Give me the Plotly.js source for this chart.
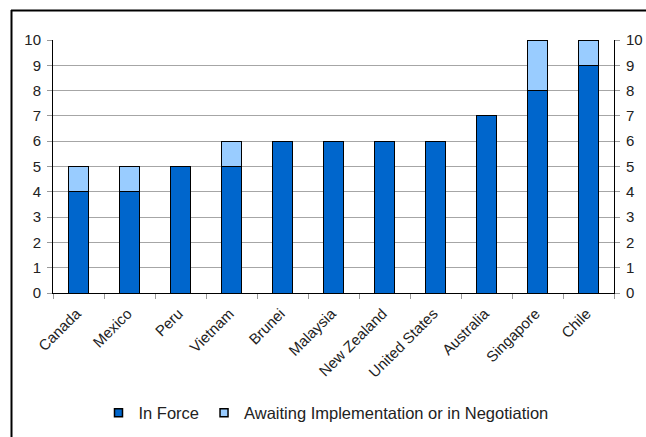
<!DOCTYPE html>
<html>
<head>
<meta charset="utf-8">
<script src="https://cdn.plot.ly/plotly-3.0.1.min.js"></script>
<style>
html,body{margin:0;padding:0;background:#fff;}
#chart{width:646px;height:437px;}
</style>
</head>
<body>
<div id="chart"></div>
<script>
const categories = ["Canada","Mexico","Peru","Vietnam","Brunei","Malaysia","New Zealand","United States","Australia","Singapore","Chile"];
const inForce = [4,4,5,5,6,6,6,6,7,8,9];
const awaiting = [1,1,0,1,0,0,0,0,0,2,1];
const seriesNames = ["In Force","Awaiting Implementation or in Negotiation"];
const seriesColors = ["#0066CC","#99CCFF"];
const yTicks = [0,1,2,3,4,5,6,7,8,9,10];

const W = 646, H = 437;
const mL = 53, mR = 32, mT = 40, mB = 144;
const pw = W - mL - mR, ph = H - mT - mB;
const px = v => (v - mL) / pw;
const py = v => (H - mB - v) / ph;

const font = {family: "Liberation Sans, Arial, sans-serif", size: 15, color: "#222"};
const legendFont = {family: "Liberation Sans, Arial, sans-serif", size: 16.5, color: "#222"};

const traces = [
  {type: "bar", name: seriesNames[0], x: categories, y: inForce, showlegend: false,
   marker: {color: seriesColors[0], line: {color: "#000", width: 1}}, hoverinfo: "skip"},
  {type: "bar", name: seriesNames[1], x: categories, y: awaiting, showlegend: false,
   marker: {color: seriesColors[1], line: {color: "#000", width: 1}}, hoverinfo: "skip"},
  {type: "scatter", mode: "markers", name: seriesNames[0], x: [categories[0]], y: [null],
   marker: {symbol: "square", size: 8, color: seriesColors[0], line: {color: "#000", width: 1.5}}, hoverinfo: "skip"},
  {type: "scatter", mode: "markers", name: seriesNames[1], x: [categories[0]], y: [null],
   marker: {symbol: "square", size: 8, color: seriesColors[1], line: {color: "#000", width: 1.5}}, hoverinfo: "skip"},
  {type: "scatter", mode: "markers", x: [categories[0]], y: [null], yaxis: "y2",
   showlegend: false, hoverinfo: "skip"}
];

const yaxisCommon = {
  range: [0, 10], tickvals: yTicks, ticktext: yTicks.map(String),
  showline: true, linecolor: "#000", linewidth: 1,
  ticks: "outside", ticklen: 5, tickcolor: "#999", tickwidth: 1,
  tickfont: font, ticklabelstandoff: 3, zeroline: false, fixedrange: true
};

const layout = {
  width: W, height: H,
  margin: {l: mL, r: mR, t: mT, b: mB, pad: 0, autoexpand: false},
  paper_bgcolor: "#fff", plot_bgcolor: "#fff",
  barmode: "stack", bargap: 0.59,
  font: font,
  showlegend: true,
  legend: {orientation: "h", x: px(326), xanchor: "center", y: py(413), yanchor: "middle",
           font: legendFont, itemwidth: 30, traceorder: "normal", tracegroupgap: 0},
  xaxis: {
    type: "category", range: [-0.5, categories.length - 0.5], autorange: false,
    tickangle: -45, tickfont: font, ticklabelstandoff: 5, ticklabelshift: -2,
    showline: true, linecolor: "#000", linewidth: 1,
    ticks: "outside", tickson: "boundaries", ticklen: 5, tickcolor: "#999",
    showgrid: false, fixedrange: true
  },
  yaxis: Object.assign({}, yaxisCommon, {showgrid: true, gridcolor: "#a6a6a6", gridwidth: 1}),
  yaxis2: Object.assign({}, yaxisCommon, {overlaying: "y", side: "right", showgrid: false}),
  shapes: [
    {type: "line", xref: "paper", yref: "paper", x0: px(11), x1: px(660), y0: py(10.5), y1: py(10.5),
     line: {color: "#000", width: 2}},
    {type: "line", xref: "paper", yref: "paper", x0: px(11.5), x1: px(11.5), y0: py(10), y1: py(450),
     line: {color: "#000", width: 2}}
  ]
};

Plotly.newPlot("chart", traces, layout, {displayModeBar: false, staticPlot: true});
</script>
</body>
</html>
